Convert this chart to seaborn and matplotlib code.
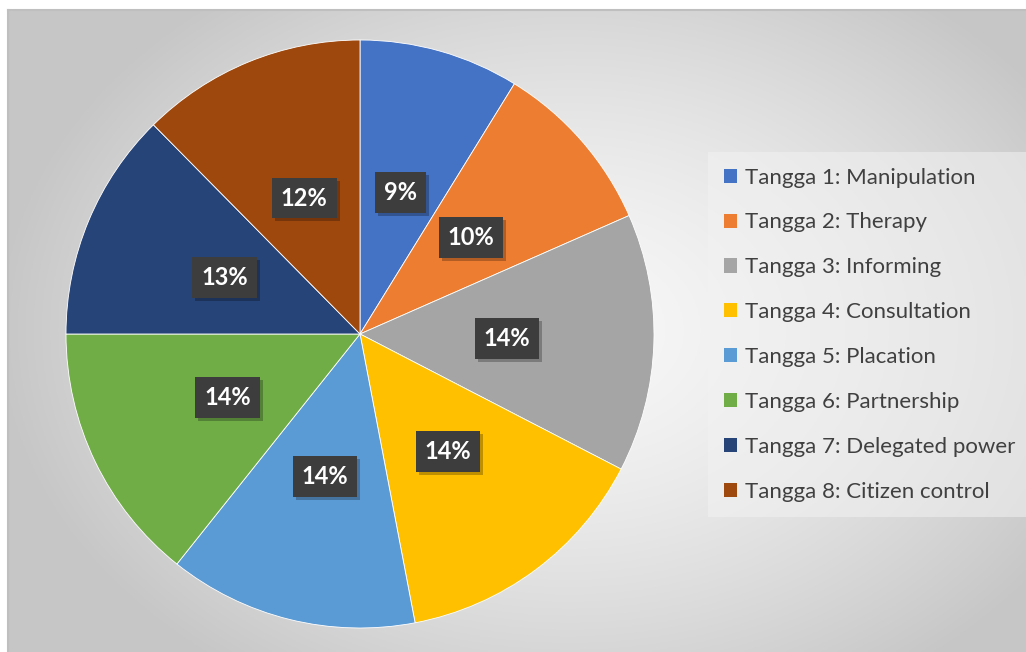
import seaborn as sns
import matplotlib.pyplot as plt
import numpy as np
from matplotlib.patches import Patch, Rectangle

# data
labels = ["Tangga 1: Manipulation", "Tangga 2: Therapy", "Tangga 3: Informing",
          "Tangga 4: Consultation", "Tangga 5: Placation", "Tangga 6: Partnership",
          "Tangga 7: Delegated power", "Tangga 8: Citizen control"]
shares = [8.8, 9.6, 14.2, 14.4, 13.7, 14.3, 12.6, 12.4]
colors = ["#4472C4", "#ED7D31", "#A5A5A5", "#FFC000",
          "#5B9BD5", "#70AD47", "#264478", "#9E480E"]

sns.set_style("white")
plt.rcParams["font.family"] = ["Lato", "DejaVu Sans"]

W, H = 1026, 652
fig = plt.figure(figsize=(W / 100, H / 100), dpi=100)
fig.patch.set_facecolor("white")

# gradient background of the chart area
x0, ytop = 8, 10
bg = fig.add_axes([x0 / W, 0, 1 - x0 / W, 1 - ytop / H])
xx, yy = np.meshgrid(np.linspace(x0, W, 400), np.linspace(ytop, H, 260))
d = np.sqrt(((xx - 570) / 570) ** 2 + ((yy - 330) / 420) ** 2)
d = np.clip(d, 0, 1)
val = 0.97 - (0.97 - 0.78) * d ** 1.5
bg.imshow(np.dstack([val, val, val]), extent=(0, 1, 0, 1), aspect="auto", origin="upper")
bg.set_xticks([])
bg.set_yticks([])
for side in ["right", "bottom"]:
    bg.spines[side].set_visible(False)
for side in ["top", "left"]:
    bg.spines[side].set_color("#bfbfbf")
    bg.spines[side].set_linewidth(1.5)

# pie
cx, cy, r = 360, H - 334, 294
ax = fig.add_axes([(cx - r) / W, (cy - r) / H, 2 * r / W, 2 * r / H])
ax.set_facecolor("none")
wedges, texts, autotexts = ax.pie(
    shares, colors=colors, startangle=90, counterclock=False,
    autopct="%.0f%%", pctdistance=0.5, radius=1,
    wedgeprops=dict(edgecolor="white", linewidth=0.6),
    textprops=dict(color="white", fontsize=17, fontweight="bold"))
for t in autotexts:
    t.set_bbox(dict(boxstyle="square,pad=0.38", facecolor="#3d3d3d",
                    edgecolor="none"))
    t.set_zorder(5)
ax.set_xlim(-1, 1)
ax.set_ylim(-1, 1)
ax.set_aspect("equal")
ax.axis("off")

# soft shadow under the label boxes
fig.canvas.draw()
for t in autotexts:
    ext = t.get_bbox_patch().get_window_extent()
    ax.add_patch(Rectangle((ext.x0 + 3, ext.y0 - 3), ext.width, ext.height,
                           transform=None, facecolor="black", alpha=0.25,
                           edgecolor="none", zorder=4, clip_on=False))

# legend
handles = [Patch(facecolor=c, edgecolor="none") for c in colors]
leg = fig.legend(handles, labels, loc="upper left",
                 bbox_to_anchor=(708 / W, 1 - 152 / H),
                 fontsize=16, frameon=True, fancybox=False,
                 handlelength=0.6, handleheight=0.6, handletextpad=0.35,
                 labelspacing=1.12, borderpad=0.7, borderaxespad=0)
leg.get_frame().set_facecolor("#f2f2f2")
leg.get_frame().set_alpha(0.55)
leg.get_frame().set_edgecolor("none")
for t in leg.get_texts():
    t.set_color("#404040")

fig.savefig("out.png", dpi=100)
